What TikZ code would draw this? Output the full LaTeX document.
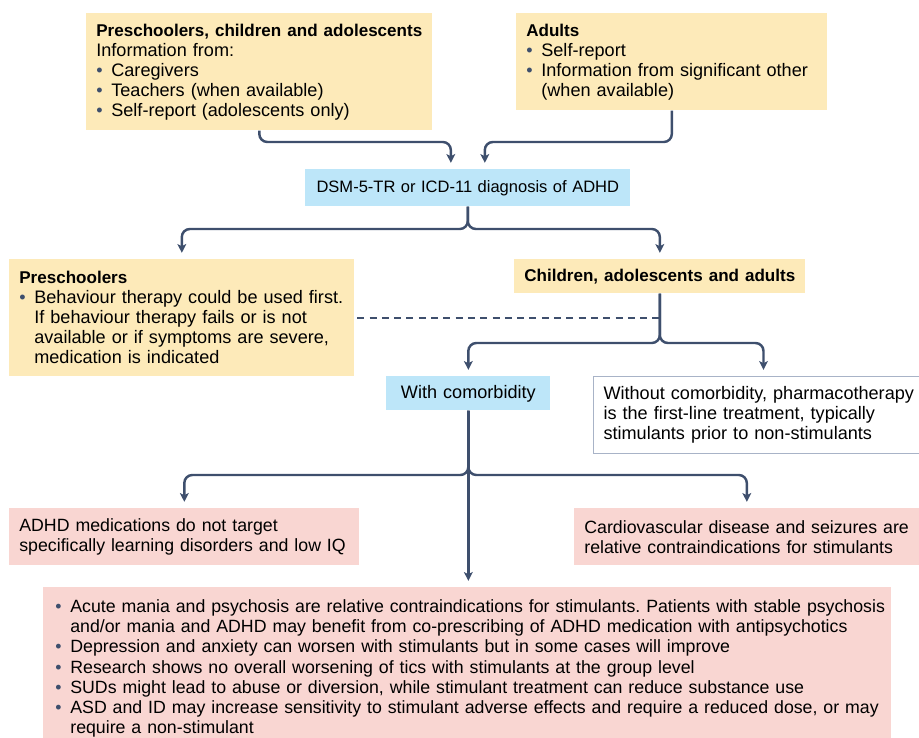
\documentclass[tikz,border=0pt]{standalone}
\usepackage{fontspec}
\setmainfont{Liberation Sans}
\usetikzlibrary{arrows.meta}
\definecolor{SlateLine}{RGB}{62,79,109}
\definecolor{SoftYellow}{RGB}{253,234,185}
\definecolor{SoftSky}{RGB}{189,230,249}
\definecolor{SoftRose}{RGB}{249,214,210}
\definecolor{GreyFrame}{RGB}{168,179,199}
\newcommand{\bitem}[1]{\par\hangindent=0.3cm\hangafter=1\noindent
  \makebox[0.3cm][l]{\textcolor{SlateLine}{\textbullet}}#1\par}
\newcommand{\heading}[1]{{\fontsize{9.7}{11.4}\selectfont\bfseries #1}}
\tikzset{
  infobox/.style={anchor=north west,inner xsep=0.2cm,inner ysep=0pt,
    align=left,font=\fontsize{10.3}{11.4}\selectfont\frenchspacing},
  agebox/.style={infobox,fill=SoftYellow},
  diagbox/.style={infobox,fill=SoftSky,align=center},
  warnbox/.style={infobox,fill=SoftRose,font=\fontsize{10.1}{11.4}\selectfont\frenchspacing},
  plainbox/.style={infobox,draw=GreyFrame,fill=white,line width=0.6pt},
  flow/.style={-{Stealth[length=5pt,width=5pt,inset=1.2pt]},line width=1.4pt,
    SlateLine,rounded corners=0.16cm,shorten >=3.5pt},
  link/.style={line width=1.4pt,SlateLine,dash pattern=on 4pt off 3pt,shorten <=1.5pt}
}
\begin{document}
\begin{tikzpicture}[x=0.02cm,y=-0.02cm]
  \useasboundingbox (0,0) rectangle (919,737);

  % Assessment sources
  \node[agebox,text width=6.52cm,minimum height=2.34cm] (young) at (86,13)
    {\heading{Preschoolers, children and adolescents}\par Information from:
     \bitem{Caregivers}\bitem{Teachers (when available)}\bitem{Self-report (adolescents only)}};
  \node[agebox,text width=5.82cm,minimum height=1.94cm] (adults) at (516,13)
    {\heading{Adults}\bitem{Self-report}\bitem{Information from significant other\newline (when available)}};

  % Diagnosis
  \node[diagbox,inner xsep=0.1cm,text width=6.3cm,minimum height=0.74cm,
    font=\fontsize{9.4}{11.4}\selectfont] (diag) at (305,169)
    {DSM-5-TR or ICD-11 diagnosis of ADHD};
  \coordinate (merge) at (467,142);
  \draw[flow] (young.south) -- (young.south |- merge) -| ([xshift=-0.34cm]diag.north);
  \draw[flow] (adults.south) -- (adults.south |- merge) -| ([xshift=0.34cm]diag.north);

  % Age groups
  \node[agebox,text width=6.5cm,minimum height=2.34cm] (presch) at (9,259)
    {\heading{Preschoolers}\bitem{Behaviour therapy could be used first.\newline If behaviour therapy fails or is not\newline available or if symptoms are severe,\newline medication is indicated}};
  \node[agebox,text width=5.42cm,minimum height=0.68cm] (older) at (514,259)
    {\heading{Children, adolescents and adults}};
  \coordinate (fork1) at (467,229);
  \draw[flow] (diag.south) -- (diag.south |- fork1) -| (presch.north);
  \draw[flow] (diag.south) -- (diag.south |- fork1) -| (older.north);
  \draw[link] (presch.east) -- (presch.east -| older.south);

  % Comorbidity
  \node[diagbox,text width=2.88cm,minimum height=0.68cm] (comorb) at (386,376)
    {With comorbidity};
  \node[plainbox,text width=6.4cm,minimum height=1.54cm] (nocomorb) at (593,376)
    {Without comorbidity, pharmacotherapy\\ is the first-line treatment, typically\\ stimulants prior to non-stimulants};
  \coordinate (fork2) at (660,343);
  \draw[flow] (older.south) -- (older.south |- fork2) -| (comorb.north);
  \draw[flow] (older.south) -- (older.south |- fork2) -| (nocomorb.north);

  % Cautions
  \node[warnbox,text width=6.6cm,minimum height=1.14cm] (learn) at (9,508)
    {ADHD medications do not target\\ specifically learning disorders and low IQ};
  \node[warnbox,text width=6.5cm,minimum height=1.14cm] (cardio) at (574,508)
    {Cardiovascular disease and seizures are\\ relative contraindications for stimulants};
  \node[warnbox,inner xsep=0.24cm,text width=16.48cm,minimum height=3.1cm] (psych) at (43,587)
    {\bitem{\mbox{Acute mania and psychosis are relative contraindications for stimulants. Patients with stable psychosis}\newline and/or mania and ADHD may benefit from co-prescribing of ADHD medication with antipsychotics}
     \bitem{Depression and anxiety can worsen with stimulants but in some cases will improve}
     \bitem{Research shows no overall worsening of tics with stimulants at the group level}
     \bitem{SUDs might lead to abuse or diversion, while stimulant treatment can reduce substance use}
     \bitem{\mbox{ASD and ID may increase sensitivity to stimulant adverse effects and require a reduced dose, or may}\newline require a non-stimulant}};
  \coordinate (fork3) at (467,475);
  \draw[flow] (comorb.south) -- (comorb.south |- fork3) -| (learn.north);
  \draw[flow] (comorb.south) -- (comorb.south |- fork3) -| (cardio.north);
  \draw[flow] (comorb.south) -- (comorb.south |- psych.north);
\end{tikzpicture}
\end{document}
